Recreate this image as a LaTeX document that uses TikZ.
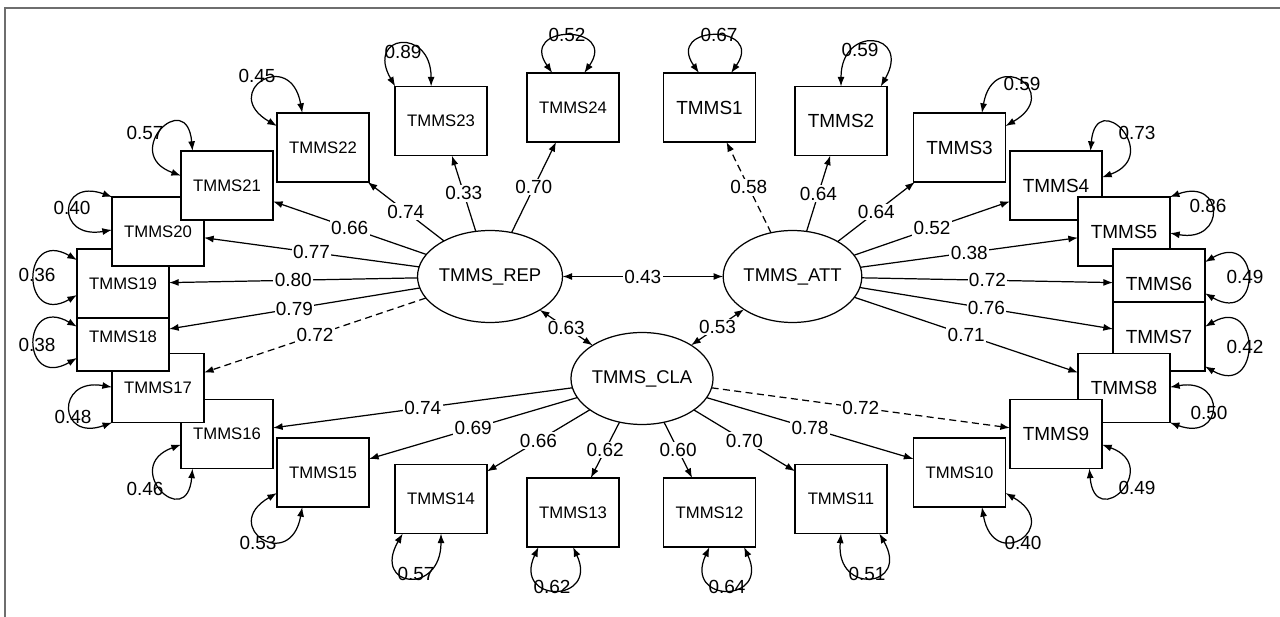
\documentclass[tikz,border=0pt]{standalone}
\usepackage{fontspec}
\setmainfont{Liberation Sans}
\usetikzlibrary{shapes.geometric,arrows.meta}
\definecolor{framegray}{RGB}{110,110,110}
\begin{document}
\begin{tikzpicture}[x=0.02cm,y=-0.02cm,
  obs/.style={draw,fill=white,line width=0.7pt,minimum width=1.84cm,minimum height=1.38cm,inner sep=0pt,outer sep=0pt,font=\fontsize{9.5}{11}\selectfont},
  obsa/.style={obs,font=\fontsize{10.8}{12}\selectfont},
  lat/.style={ellipse,draw,fill=white,line width=0.7pt,minimum width=2.74cm,minimum height=1.84cm,inner sep=0pt,outer sep=0pt,font=\fontsize{10.5}{12}\selectfont},
  ld/.style={-{Latex[length=5.5pt,width=4pt]},line width=0.7pt},
  cv/.style={{Latex[length=5.5pt,width=4pt]}-{Latex[length=5.5pt,width=4pt]},line width=0.7pt},
  dsh/.style={dash pattern=on 4pt off 2.5pt},
  coef/.style={fill=white,inner sep=0.8pt,font=\fontsize{10.8}{12}\selectfont},
  errv/.style={inner sep=0pt,font=\fontsize{10.8}{12}\selectfont}]
\useasboundingbox (0,0) rectangle (1280,617);
\draw[framegray,line width=1pt] (5,617) -- (5,8) -- (1280,8);

% factors
\node[lat] (rep) at (490,276.5) {TMMS\_REP};
\node[lat] (att) at (792.5,276.5) {TMMS\_ATT};
\node[lat] (cla) at (642,378.5) {TMMS\_CLA};

% items, top
\node[obs] (t23) at (441,121) {TMMS23};
\node[obs] (t24) at (573,107.5) {TMMS24};
\node[obsa] (t1) at (709.5,107.5) {TMMS1};
\node[obsa] (t2) at (841,121) {TMMS2};
% items, left
\node[obs] (t22) at (323,147.5) {TMMS22};
\node[obs] (t16) at (227,434) {TMMS16};
\node[obs] (t17) at (158,388) {TMMS17};
\node[obs] (t18) at (123,336.5) {TMMS18};
\node[obs] (t19) at (123,283.5) {TMMS19};
\node[obs] (t20) at (158,231.5) {TMMS20};
\node[obs] (t21) at (227,185.5) {TMMS21};
\node[obs] (t15) at (323,472.5) {TMMS15};
% items, bottom
\node[obs] (t14) at (441,499) {TMMS14};
\node[obs] (t13) at (573,512.5) {TMMS13};
\node[obs] (t12) at (709.5,512.5) {TMMS12};
\node[obs] (t11) at (841,499) {TMMS11};
% items, right
\node[obs] (t10) at (959.5,472.5) {TMMS10};
\node[obsa] (t3) at (959.5,147.5) {TMMS3};
\node[obsa] (t4) at (1056,185.5) {TMMS4};
\node[obsa] (t5) at (1124,231.5) {TMMS5};
\node[obsa] (t6) at (1159,283.5) {TMMS6};
\node[obsa] (t7) at (1159,336.5) {TMMS7};
\node[obsa] (t8) at (1124,388) {TMMS8};
\node[obsa] (t9) at (1056,434) {TMMS9};

% loadings
\draw[ld] (rep) -- node[coef] (c23) {0.33} (t23);
\draw[ld] (rep) -- node[coef] (c24) {0.70} (t24);
\draw[ld] (rep) -- node[coef] (c22) {0.74} (t22);
\draw[ld] (rep) -- node[coef] (c21) {0.66} (t21);
\draw[ld] (rep) -- node[coef] (c20) {0.77} (t20);
\draw[ld] (rep) -- node[coef] (c19) {0.80} (t19);
\draw[ld] (rep) -- node[coef] (c18) {0.79} (t18);
\draw[ld,dsh] (rep) -- node[coef] (c17) {0.72} (t17);

\draw[ld,dsh] (att) -- node[coef] (c1) {0.58} (t1);
\draw[ld] (att) -- node[coef] (c2) {0.64} (t2);
\draw[ld] (att) -- node[coef] (c3) {0.64} (t3);
\draw[ld] (att) -- node[coef] (c4) {0.52} (t4);
\draw[ld] (att) -- node[coef] (c5) {0.38} (t5);
\draw[ld] (att) -- node[coef] (c6) {0.72} (t6);
\draw[ld] (att) -- node[coef] (c7) {0.76} (t7);
\draw[ld] (att) -- node[coef] (c8) {0.71} (t8);

\draw[ld] (cla) -- node[coef] (c16) {0.74} (t16);
\draw[ld] (cla) -- node[coef] (c15) {0.69} (t15);
\draw[ld] (cla) -- node[coef] (c14) {0.66} (t14);
\draw[ld] (cla) -- node[coef] (c13) {0.62} (t13);
\draw[ld] (cla) -- node[coef] (c12) {0.60} (t12);
\draw[ld] (cla) -- node[coef] (c11) {0.70} (t11);
\draw[ld] (cla) -- node[coef] (c10) {0.78} (t10);
\draw[ld,dsh] (cla) -- node[coef] (c9) {0.72} (t9);

% correlations
\draw[cv] (rep) -- node[coef] (r1) {0.43} (att);
\draw[cv] (rep) -- node[coef] (r2) {0.63} (cla);
\draw[cv] (att) -- node[coef] (r3) {0.53} (cla);

% error variances
\draw[cv] (t23.143) to[out=120,in=90,distance=1.2cm] (t23.106);
\draw[cv] (t24.121) to[out=125,in=55,distance=1.2cm] (t24.72);
\draw[cv] (t1.107) to[out=125,in=55,distance=1.2cm] (t1.58);
\draw[cv] (t2.90) to[out=90,in=60,distance=1.25cm] (t2.41);
\draw[cv] (t22.155) to[out=150,in=100,distance=1.35cm] (t22.121);
\draw[cv] (t21.168) to[out=160,in=95,distance=1.3cm] (t21.135);
\draw[cv] (t20.143) to[out=160,in=190,distance=1.15cm] (t20.178);
\draw[cv] (t19.153) to[out=150,in=210,distance=1.3cm] (t19.194);
\draw[cv] (t18.168) to[out=150,in=210,distance=1.3cm] (t18.205);
\draw[cv] (t17.179) to[out=170,in=200,distance=1.15cm] (t17.217);
\draw[cv] (t16.193) to[out=200,in=265,distance=1.3cm] (t16.225);
\draw[cv] (t15.204) to[out=210,in=260,distance=1.35cm] (t15.239);
\draw[cv] (t14.222) to[out=240,in=270,distance=1.25cm] (t14.270);
\draw[cv] (t13.225) to[out=245,in=295,distance=1.25cm] (t13.270);
\draw[cv] (t12.270) to[out=245,in=295,distance=1.25cm] (t12.315);
\draw[cv] (t11.270) to[out=265,in=300,distance=1.25cm] (t11.318);
\draw[cv] (t10.303) to[out=280,in=330,distance=1.35cm] (t10.336);
\draw[cv] (t9.314) to[out=275,in=340,distance=1.3cm] (t9.347);
\draw[cv] (t8.1) to[out=10,in=340,distance=1.15cm] (t8.323);
\draw[cv] (t7.12) to[out=30,in=330,distance=1.3cm] (t7.327);
\draw[cv] (t6.25) to[out=30,in=330,distance=1.3cm] (t6.348);
\draw[cv] (t5.37) to[out=20,in=350,distance=1.15cm] (t5.358);
\draw[cv] (t4.45) to[out=85,in=20,distance=1.3cm] (t4.10);
\draw[cv] (t3.57) to[out=80,in=30,distance=1.35cm] (t3.25);

\node[errv] (e23) at (403,52) {0.89};
\node[errv] (e24) at (567,35) {0.52};
\node[errv] (e1) at (719,35) {0.67};
\node[errv] (e2) at (860,50) {0.59};
\node[errv] (e22) at (257,76) {0.45};
\node[errv] (e21) at (145,133) {0.57};
\node[errv] (e20) at (72,208) {0.40};
\node[errv] (e19) at (37,275) {0.36};
\node[errv] (e18) at (37,345) {0.38};
\node[errv] (e17) at (73,417) {0.48};
\node[errv] (e16) at (145,489) {0.46};
\node[errv] (e15) at (258,543) {0.53};
\node[errv] (e14) at (416,574) {0.57};
\node[errv] (e13) at (552,587) {0.62};
\node[errv] (e12) at (727,587) {0.64};
\node[errv] (e11) at (867,574) {0.51};
\node[errv] (e10) at (1023,543) {0.40};
\node[errv] (e9) at (1137,488) {0.49};
\node[errv] (e8) at (1209,413) {0.50};
\node[errv] (e7) at (1245,347) {0.42};
\node[errv] (e6) at (1245,277) {0.49};
\node[errv] (e5) at (1208,206) {0.86};
\node[errv] (e4) at (1137,133) {0.73};
\node[errv] (e3) at (1022,84) {0.59};
\end{tikzpicture}
\end{document}
